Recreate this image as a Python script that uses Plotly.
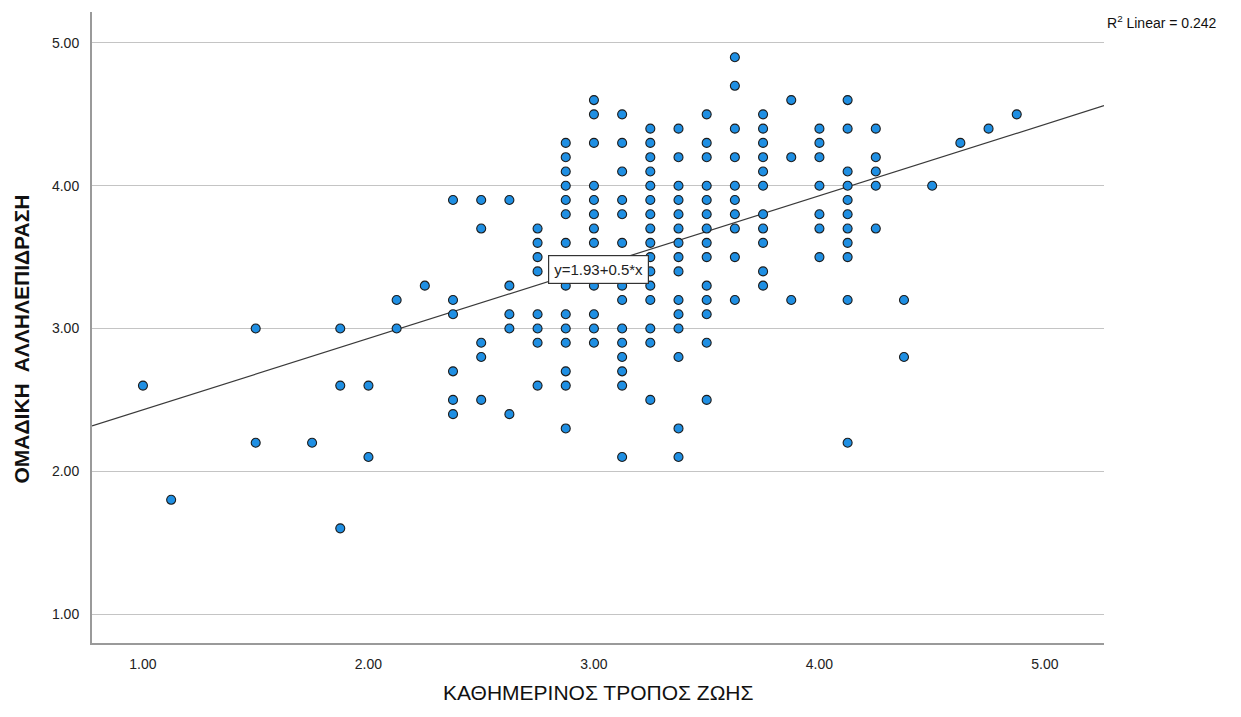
import plotly.graph_objects as go

# values (x = ΚΑΘΗΜΕΡΙΝΟΣ ΤΡΟΠΟΣ ΖΩΗΣ, y = ΟΜΑΔΙΚΗ ΑΛΛΗΛΕΠΙΔΡΑΣΗ)
x_levels = [1.0, 1.125, 1.5, 1.75, 1.875, 2.0, 2.125, 2.25, 2.375, 2.5, 2.625, 2.75,
            2.875, 3.0, 3.125, 3.25, 3.375, 3.5, 3.625, 3.75, 3.875, 4.0, 4.125,
            4.25, 4.375, 4.5, 4.625, 4.75, 4.875]
y_by_level = [
    [2.6],
    [1.8],
    [3.0, 2.2],
    [2.2],
    [3.0, 2.6, 1.6],
    [2.6, 2.1],
    [3.2, 3.0],
    [3.3],
    [3.9, 3.2, 3.1, 2.7, 2.5, 2.4],
    [3.9, 3.7, 2.9, 2.8, 2.5],
    [3.9, 3.3, 3.1, 3.0, 2.4],
    [3.7, 3.6, 3.5, 3.4, 3.1, 3.0, 2.9, 2.6],
    [4.3, 4.2, 4.1, 4.0, 3.9, 3.8, 3.6, 3.3, 3.1, 3.0, 2.9, 2.7, 2.6, 2.3],
    [4.6, 4.5, 4.3, 4.0, 3.9, 3.8, 3.7, 3.6, 3.3, 3.1, 3.0, 2.9],
    [4.5, 4.3, 4.1, 3.9, 3.8, 3.6, 3.3, 3.2, 3.0, 2.9, 2.8, 2.7, 2.6, 2.1],
    [4.4, 4.3, 4.2, 4.1, 4.0, 3.9, 3.8, 3.7, 3.6, 3.5, 3.4, 3.3, 3.2, 3.0, 2.9, 2.5],
    [4.4, 4.2, 4.0, 3.9, 3.8, 3.7, 3.6, 3.5, 3.4, 3.2, 3.1, 3.0, 2.8, 2.3, 2.1],
    [4.5, 4.3, 4.2, 4.0, 3.9, 3.8, 3.7, 3.6, 3.5, 3.3, 3.2, 3.1, 2.9, 2.5],
    [4.9, 4.7, 4.4, 4.2, 4.0, 3.9, 3.8, 3.7, 3.5, 3.2],
    [4.5, 4.4, 4.3, 4.2, 4.1, 4.0, 3.8, 3.7, 3.6, 3.4, 3.3],
    [4.6, 4.2, 3.2],
    [4.4, 4.3, 4.2, 4.0, 3.8, 3.7, 3.5],
    [4.6, 4.4, 4.1, 4.0, 3.9, 3.8, 3.7, 3.6, 3.5, 3.2, 2.2],
    [4.4, 4.2, 4.1, 4.0, 3.7],
    [3.2, 2.8],
    [4.0],
    [4.3],
    [4.4],
    [4.5],
]

intercept = 1.93
slope = 0.5
r2 = 0.242

x_range = [0.774, 5.262]
y_range = [0.797, 5.217]
ticks = [1, 2, 3, 4, 5]

xs = [x for x, ys in zip(x_levels, y_by_level) for _ in ys]
ys = [y for ys_ in y_by_level for y in ys_]

FONT = "Liberation Sans, Arial, sans-serif"

fig = go.Figure()

fig.add_trace(go.Scatter(
    x=x_range,
    y=[intercept + slope * v for v in x_range],
    mode="lines",
    line=dict(color="#3a3a3a", width=1.2),
    hoverinfo="skip",
))

fig.add_trace(go.Scatter(
    x=xs, y=ys, mode="markers",
    marker=dict(size=9, color="#1f8fe3", line=dict(color="#1c1c1c", width=1.1)),
))

# equation label on the fit line
fig.add_annotation(
    x=3.018, y=3.41, xref="x", yref="y",
    text=f"y={intercept}+{slope}*x", showarrow=False,
    font=dict(family=FONT, size=15, color="#222"),
    bgcolor="white", bordercolor="#333", borderwidth=1.2, borderpad=5,
)
fig.add_annotation(
    x=1.0, y=1.0, xref="paper", yref="paper", xanchor="left", yanchor="middle",
    xshift=1, yshift=-10,
    text=f"R<sup>2</sup> Linear = {r2}", showarrow=False,
    font=dict(family=FONT, size=14, color="#111"),
)

# axis titles
fig.add_annotation(
    x=0.5, y=0, xref="paper", yref="paper", xanchor="center", yanchor="middle",
    yshift=-49, text="ΚΑΘΗΜΕΡΙΝΟΣ ΤΡΟΠΟΣ ΖΩΗΣ", showarrow=False,
    font=dict(family=FONT, size=21, color="#111"),
)
fig.add_annotation(
    x=0, y=0.5, xref="paper", yref="paper", xanchor="center", yanchor="middle",
    xshift=-71, yshift=-12, textangle=-90,
    text="<b>ΟΜΑΔΙΚΗ  ΑΛΛΗΛΕΠΙΔΡΑΣΗ</b>", showarrow=False,
    font=dict(family=FONT, size=21, color="#111"),
)

# the page body adds an 8px offset, so margins are trimmed on the left/top
fig.update_layout(
    width=1241, height=717,
    margin=dict(l=84, r=145, t=4, b=82),
    plot_bgcolor="white", paper_bgcolor="white",
    showlegend=False,
    font=dict(family=FONT, size=14, color="#222"),
)
fig.update_xaxes(
    range=x_range, tickvals=ticks, tickformat=".2f", showgrid=False, zeroline=False,
    showline=True, linecolor="#9a9a9a", linewidth=2, ticks="", ticklabelstandoff=7,
    automargin=False,
)
fig.update_yaxes(
    range=y_range, tickvals=ticks, tickformat=".2f", showgrid=True, gridcolor="#c4c4c4",
    gridwidth=1, zeroline=False, showline=True, linecolor="#9a9a9a", linewidth=2,
    ticks="", ticklabelstandoff=8, automargin=False,
)

fig.write_html("out.html")
